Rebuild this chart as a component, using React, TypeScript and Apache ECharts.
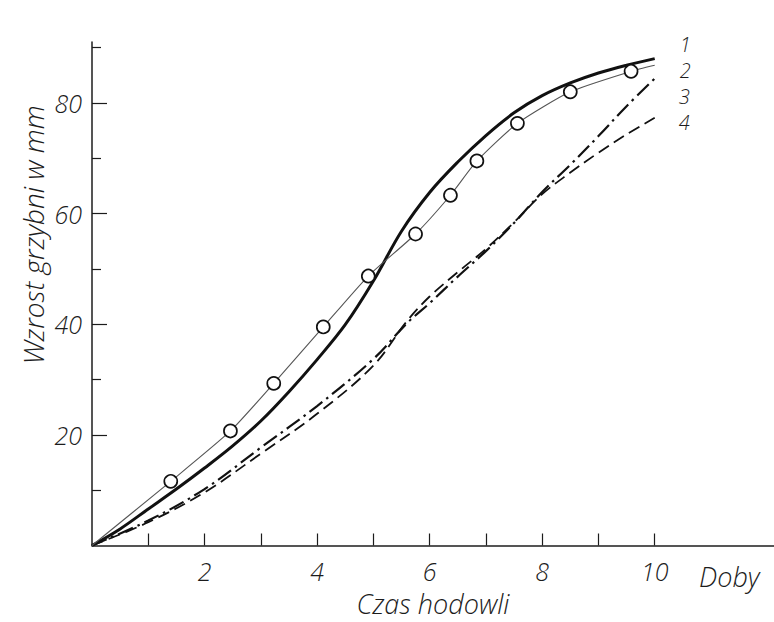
import React, { useEffect, useRef } from "react";
import * as echarts from "echarts";

const xTicks = [1, 2, 3, 4, 5, 6, 7, 8, 9, 10];
const xLabels = [2, 4, 6, 8, 10];
const yMajor = [20, 40, 60, 80];
const yMinor = [10, 30, 50, 70, 90];

const days1 = [0, 0.5, 1, 1.5, 2, 2.5, 3, 3.5, 4, 4.5, 5, 5.5, 6, 6.5, 7, 7.5, 8, 8.5, 9, 9.5, 10];
const growth1 = [0, 3.0, 6.6, 10.2, 14.0, 18.0, 22.5, 27.8, 33.6, 39.9, 47.8, 56.8, 63.8, 69.3, 74.1, 78.2, 81.3, 83.6, 85.4, 86.8, 88.0];

const days2 = [0, 1.4, 2.46, 3.23, 4.11, 4.91, 5.75, 6.37, 6.84, 7.56, 8.5, 9.58, 10.0];
const growth2 = [0, 11.6, 20.7, 29.3, 39.5, 48.7, 56.3, 63.3, 69.5, 76.3, 82.0, 85.7, 86.8];

const days3 = [0, 1, 2, 3, 4, 5, 5.6, 6, 6.5, 7, 7.5, 8, 8.5, 9, 9.5, 10];
const growth3 = [0, 4.5, 10.2, 17.7, 25.2, 33.7, 40.2, 43.8, 48.6, 53.2, 58.3, 63.9, 68.8, 74.0, 79.4, 84.4];

const days4 = [0, 1, 2, 3, 4, 5, 5.6, 6, 6.5, 7, 7.5, 8, 8.5, 9, 9.5, 10];
const growth4 = [0, 4.2, 9.6, 16.6, 23.8, 32.5, 40.6, 45.0, 49.4, 53.6, 58.4, 63.5, 67.4, 71.0, 74.3, 77.3];

const seriesNames = ["1", "2", "3", "4"];

const FONT = "Open Sans";
const INK = "#1c1c1c";

function pairs(xs: number[], ys: number[]) {
  return xs.map((x, i) => [x, ys[i]]);
}

export default function App() {
  const ref = useRef<HTMLDivElement>(null);
  useEffect(() => {
    if (!ref.current) return;
    const chart = echarts.init(ref.current, null, { renderer: "svg" });
    const textBase = {
      fontFamily: FONT,
      fontStyle: "italic" as const,
      fontWeight: 300,
      color: INK,
      fontSize: 25,
      lineHeight: 24,
    };
    const endText = { ...textBase, fontSize: 20, lineHeight: 18 };
    const d2 = pairs(days2, growth2).map((p, i, arr) =>
      i === 0 || i === arr.length - 1 ? { value: p, symbol: "none" } : { value: p }
    );
    chart.setOption({
      animation: false,
      backgroundColor: "#fff",
      grid: { left: 92, right: 0, top: 42, bottom: 71, containLabel: false },
      xAxis: {
        type: "value",
        min: 0,
        max: 12.12,
        axisLine: { show: true, lineStyle: { color: INK, width: 1.5 } },
        axisTick: { show: true, inside: true, length: 12, customValues: xTicks, lineStyle: { color: INK, width: 1.2 } },
        axisLabel: { show: true, customValues: xLabels, margin: 13, ...textBase },
        splitLine: { show: false },
        name: "Czas hodowli",
        nameLocation: "middle",
        nameGap: 45,
        nameTextStyle: { ...textBase, fontSize: 27, lineHeight: 26 },
      },
      yAxis: [
        {
          type: "value",
          min: 0,
          max: 91,
          axisLine: { show: true, lineStyle: { color: INK, width: 1.5 } },
          axisTick: { show: true, inside: true, length: 15, customValues: yMajor, lineStyle: { color: INK, width: 1.2 } },
          axisLabel: { show: true, customValues: yMajor, margin: 10, ...textBase },
          splitLine: { show: false },
        },
        {
          type: "value",
          min: 0,
          max: 91,
          position: "left",
          axisLine: { show: false },
          axisTick: { show: true, inside: true, length: 9, customValues: yMinor, lineStyle: { color: INK, width: 1.2 } },
          axisLabel: { show: false },
          splitLine: { show: false },
        },
      ],
      graphic: [
        {
          type: "text",
          x: 33,
          y: 235,
          rotation: Math.PI / 2,
          style: {
            text: "Wzrost grzybni w mm",
            font: `italic 300 28px "${FONT}"`,
            fill: INK,
            align: "center",
            verticalAlign: "middle",
          },
        },
        {
          type: "text",
          x: 699,
          y: 576,
          style: {
            text: "Doby",
            font: `italic 300 27px "${FONT}"`,
            fill: INK,
            align: "left",
            verticalAlign: "middle",
          },
        },
      ],
      series: [
        {
          name: seriesNames[0],
          type: "line",
          data: pairs(days1, growth1),
          smooth: 0.35,
          showSymbol: false,
          lineStyle: { color: "#111", width: 3 },
          z: 3,
          endLabel: { show: true, formatter: seriesNames[0], offset: [17, -14], ...endText },
        },
        {
          name: seriesNames[1],
          type: "line",
          data: d2,
          smooth: 0.2,
          symbol: "circle",
          symbolSize: 13,
          showAllSymbol: true,
          itemStyle: { color: "#fff", borderColor: "#111", borderWidth: 1.7 },
          lineStyle: { color: "#555", width: 1.1 },
          z: 4,
          endLabel: { show: true, formatter: seriesNames[1], offset: [17, 5], ...endText },
        },
        {
          name: seriesNames[2],
          type: "line",
          data: pairs(days3, growth3),
          smooth: 0.35,
          showSymbol: false,
          lineStyle: { color: "#111", width: 2.2, type: [16, 5, 2.5, 5] },
          z: 2,
          endLabel: { show: true, formatter: seriesNames[2], offset: [16, 18], ...endText },
        },
        {
          name: seriesNames[3],
          type: "line",
          data: pairs(days4, growth4),
          smooth: 0.35,
          showSymbol: false,
          lineStyle: { color: "#111", width: 1.8, type: [12, 6] },
          z: 2,
          endLabel: { show: true, formatter: seriesNames[3], offset: [16, 5], ...endText },
        },
      ],
    });
    return () => chart.dispose();
  }, []);
  return (
    <div
      ref={ref}
      style={{ position: "fixed", left: 0, top: 0, width: 774, height: 622, background: "#fff" }}
    />
  );
}
